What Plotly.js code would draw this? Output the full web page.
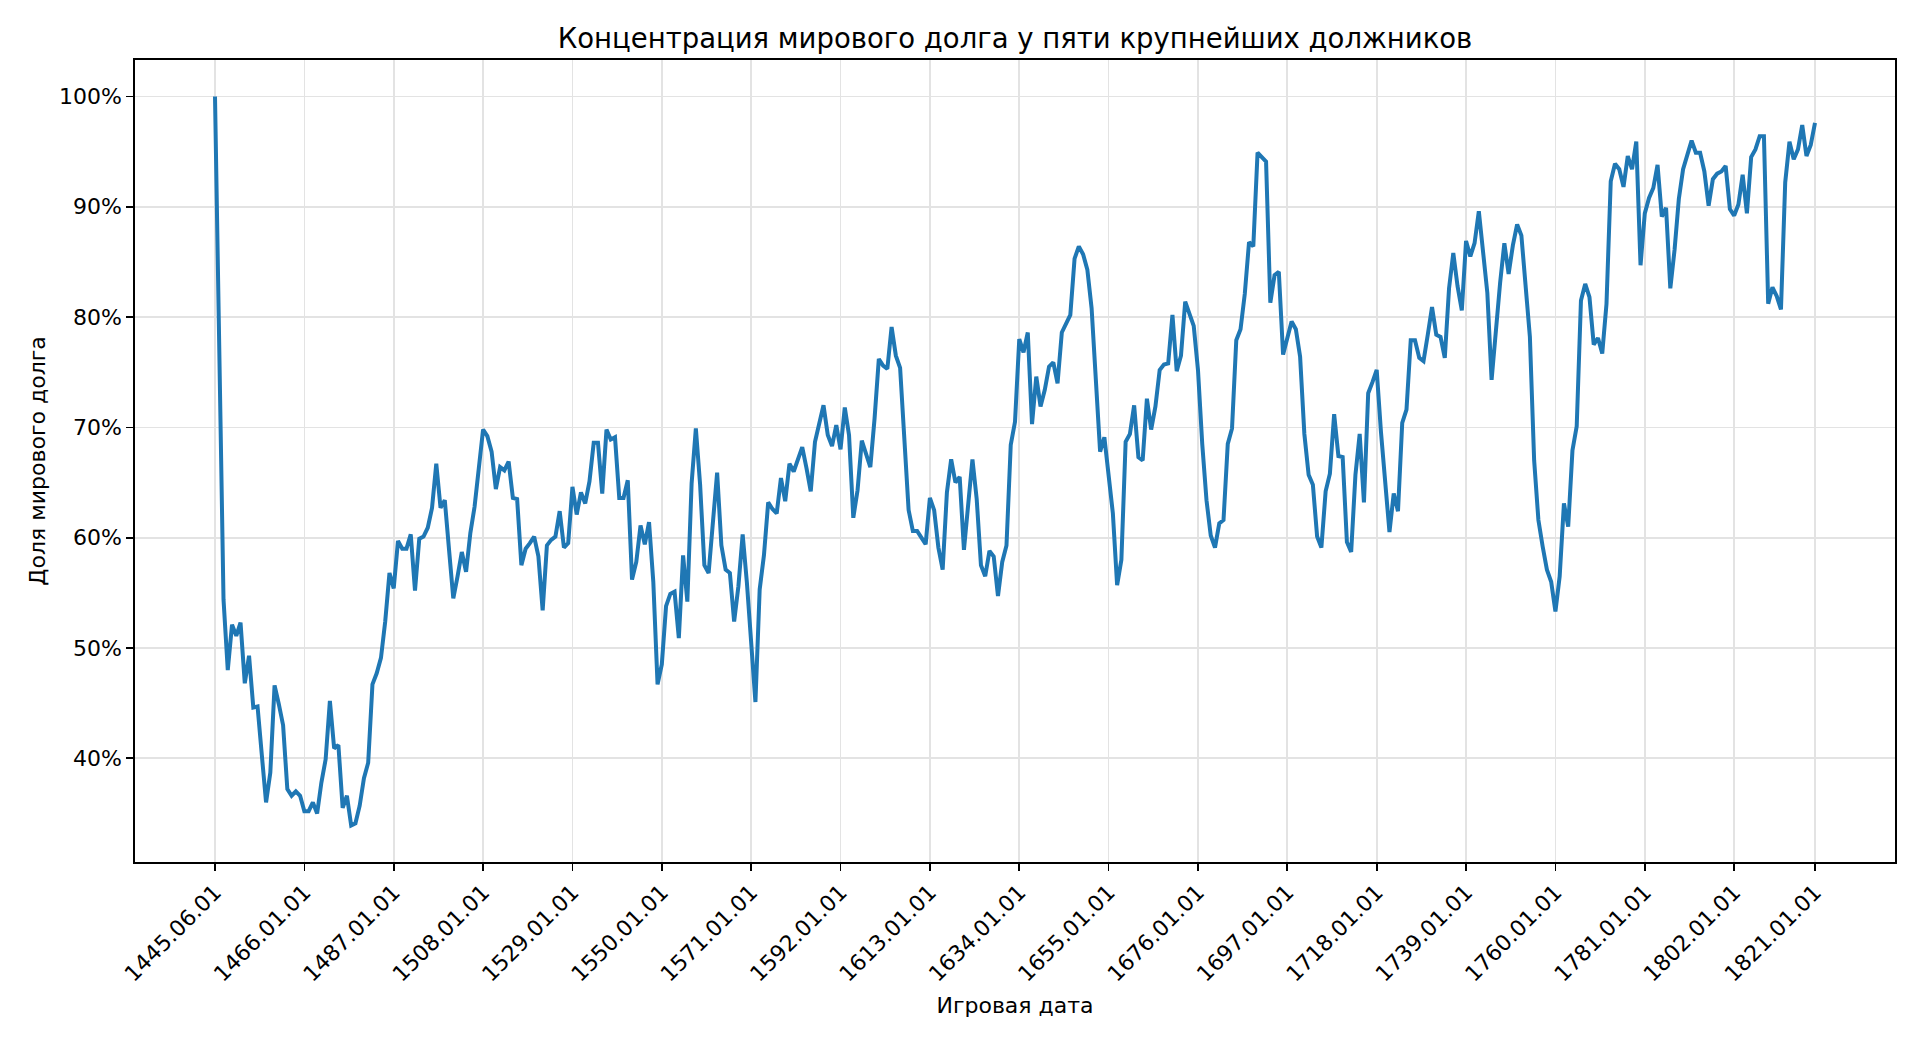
<!DOCTYPE html>
<html>
<head>
<meta charset="utf-8">
<script src="https://cdn.plot.ly/plotly-3.0.1.min.js"></script>
<style>
  html, body { margin: 0; padding: 0; background: #fff; }
  #chart { width: 1920px; height: 1040px; }
</style>
</head>
<body>
<div id="chart"></div>
<script>
// share of world debt held by the five largest debtors, in %, one point per game year
const share = [
  100.0, 77.2, 54.4, 48.0, 52.1, 51.1, 52.3, 46.8, 49.3, 44.6,
  44.7, 40.3, 36.0, 38.7, 46.6, 44.9, 43.0, 37.2, 36.6, 37.0,
  36.6, 35.2, 35.2, 36.0, 35.0, 37.8, 39.9, 45.2, 40.9, 41.2,
  35.5, 36.6, 33.9, 34.1, 35.7, 38.2, 39.6, 46.7, 47.7, 49.1,
  52.4, 56.8, 55.4, 59.7, 59.0, 59.0, 60.3, 55.2, 59.9, 60.1,
  60.9, 62.7, 66.7, 62.7, 63.4, 58.9, 54.5, 56.5, 58.7, 56.9,
  60.4, 62.8, 66.4, 69.8, 69.2, 67.8, 64.4, 66.4, 66.1, 66.9,
  63.6, 63.5, 57.5, 59.0, 59.5, 60.1, 58.3, 53.4, 59.3, 59.8,
  60.1, 62.4, 59.1, 59.5, 64.6, 62.1, 64.1, 63.1, 65.1, 68.6,
  68.6, 64.0, 69.8, 68.9, 69.1, 63.6, 63.6, 65.2, 56.2, 57.8,
  61.1, 59.4, 61.4, 56.0, 46.7, 48.5, 53.8, 54.9, 55.1, 50.9,
  58.4, 54.2, 64.9, 69.9, 64.8, 57.5, 56.8, 61.3, 65.9, 59.3,
  57.1, 56.8, 52.4, 55.6, 60.3, 55.9, 50.3, 45.1, 55.3, 58.4,
  63.2, 62.6, 62.2, 65.4, 63.3, 66.7, 66.0, 67.1, 68.2, 66.3,
  64.2, 68.7, 70.4, 72.0, 69.3, 68.3, 70.2, 68.0, 71.8, 69.3,
  61.8, 64.3, 68.8, 67.7, 66.4, 70.8, 76.2, 75.6, 75.3, 79.1,
  76.5, 75.4, 68.9, 62.5, 60.6, 60.6, 60.0, 59.4, 63.6, 62.5,
  59.1, 57.1, 64.1, 67.1, 65.0, 65.5, 58.9, 63.1, 67.1, 63.5,
  57.5, 56.5, 58.8, 58.3, 54.7, 57.8, 59.3, 68.4, 70.5, 78.0,
  76.8, 78.6, 70.3, 74.6, 71.9, 73.4, 75.5, 75.9, 74.0, 78.6,
  79.5, 80.2, 85.3, 86.4, 85.7, 84.3, 80.8, 73.7, 67.8, 69.1,
  65.2, 62.2, 55.7, 58.0, 68.7, 69.4, 72.0, 67.3, 67.0, 72.6,
  69.8, 71.9, 75.2, 75.7, 75.8, 80.2, 75.1, 76.5, 81.4, 80.4,
  79.2, 75.2, 68.5, 63.4, 60.2, 59.1, 61.3, 61.6, 68.5, 69.9,
  77.9, 78.9, 82.1, 86.8, 86.4, 94.9, 94.5, 94.1, 81.3, 83.8,
  84.1, 76.6, 78.1, 79.6, 78.9, 76.4, 69.4, 65.7, 64.8, 60.1,
  59.1, 64.2, 65.8, 71.2, 67.4, 67.3, 59.6, 58.7, 65.7, 69.4,
  63.2, 73.1, 74.1, 75.2, 69.6, 65.5, 60.5, 64.0, 62.4, 70.4,
  71.6, 77.9, 77.9, 76.3, 76.0, 78.4, 80.9, 78.4, 78.2, 76.3,
  82.6, 85.8, 82.8, 80.6, 86.9, 85.5, 86.7, 89.6, 85.8, 82.2,
  74.3, 78.8, 83.1, 86.7, 83.9, 86.5, 88.4, 87.4, 82.8, 78.2,
  67.0, 61.6, 59.2, 57.1, 56.0, 53.3, 56.5, 63.1, 61.0, 67.9,
  70.1, 81.5, 83.0, 81.8, 77.5, 78.1, 76.7, 81.2, 92.3, 93.9,
  93.4, 91.8, 94.6, 93.4, 95.9, 84.7, 89.4, 90.8, 91.7, 93.8,
  89.1, 89.9, 82.6, 86.1, 90.7, 93.4, 94.7, 96.0, 94.9, 94.9,
  93.2, 90.1, 92.5, 93.0, 93.2, 93.7, 89.8, 89.2, 90.2, 92.9,
  89.4, 94.5, 95.2, 96.4, 96.4, 81.2, 82.7, 81.9, 80.7, 92.2,
  95.9, 94.3, 95.2, 97.4, 94.6, 95.6, 97.6
];

const firstDate = '1445.06.01';
const firstYear = 1445;

const tickLabels = [
  '1445.06.01', '1466.01.01', '1487.01.01', '1508.01.01', '1529.01.01',
  '1550.01.01', '1571.01.01', '1592.01.01', '1613.01.01', '1634.01.01',
  '1655.01.01', '1676.01.01', '1697.01.01', '1718.01.01', '1739.01.01',
  '1760.01.01', '1781.01.01', '1802.01.01', '1821.01.01'
];

const yTicks = [40, 50, 60, 70, 80, 90, 100];

// game dates: first snapshot mid-year, then every 1 January
const dates = share.map((_, i) => i === 0 ? firstDate : (firstYear + i) + '.01.01');

const trace = {
  x: dates,
  y: share,
  type: 'scatter',
  mode: 'lines',
  line: {color: '#1f77b4', width: 4},
  hovertemplate: '%{x}: %{y:.1f}%<extra></extra>'
};

const n = share.length - 1;
const ymin = Math.min(...share), ymax = Math.max(...share);
const pad = (ymax - ymin) * 0.05;

const layout = {
  width: 1920,
  height: 1040,
  margin: {l: 135, r: 25, t: 60, b: 178},
  paper_bgcolor: '#ffffff',
  plot_bgcolor: '#ffffff',
  font: {family: 'DejaVu Sans, sans-serif', size: 22, color: '#000'},
  showlegend: false,
  title: {
    text: 'Концентрация мирового долга у пяти крупнейших должников',
    font: {size: 27.5, color: '#000'},
    x: 0.5, xref: 'paper', xanchor: 'center',
    y: 1 - 38 / 1040, yref: 'container', yanchor: 'middle'
  },
  xaxis: {
    type: 'category',
    range: [-n * 0.05, n * 1.05],
    tickmode: 'array',
    tickvals: tickLabels,
    ticktext: tickLabels,
    tickangle: -45,
    ticks: 'outside', ticklen: 7, tickwidth: 1.7, tickcolor: '#000',
    tickfont: {size: 22},
    showline: true, mirror: true, linecolor: '#000', linewidth: 1.7,
    showgrid: true, gridcolor: '#e3e3e3', gridwidth: 1.7,
    zeroline: false,
    title: {text: 'Игровая дата', font: {size: 22}, standoff: 12}
  },
  yaxis: {
    range: [ymin - pad, ymax + pad],
    tickmode: 'array',
    tickvals: yTicks,
    ticktext: yTicks.map(v => v + '%'),
    ticks: 'outside', ticklen: 7, tickwidth: 1.7, tickcolor: '#000',
    tickfont: {size: 22},
    showline: true, mirror: true, linecolor: '#000', linewidth: 1.7,
    showgrid: true, gridcolor: '#e3e3e3', gridwidth: 1.7,
    zeroline: false,
    title: {text: 'Доля мирового долга', font: {size: 22}, standoff: 7}
  }
};

Plotly.newPlot('chart', [trace], layout, {displayModeBar: false, staticPlot: true});
</script>
</body>
</html>
